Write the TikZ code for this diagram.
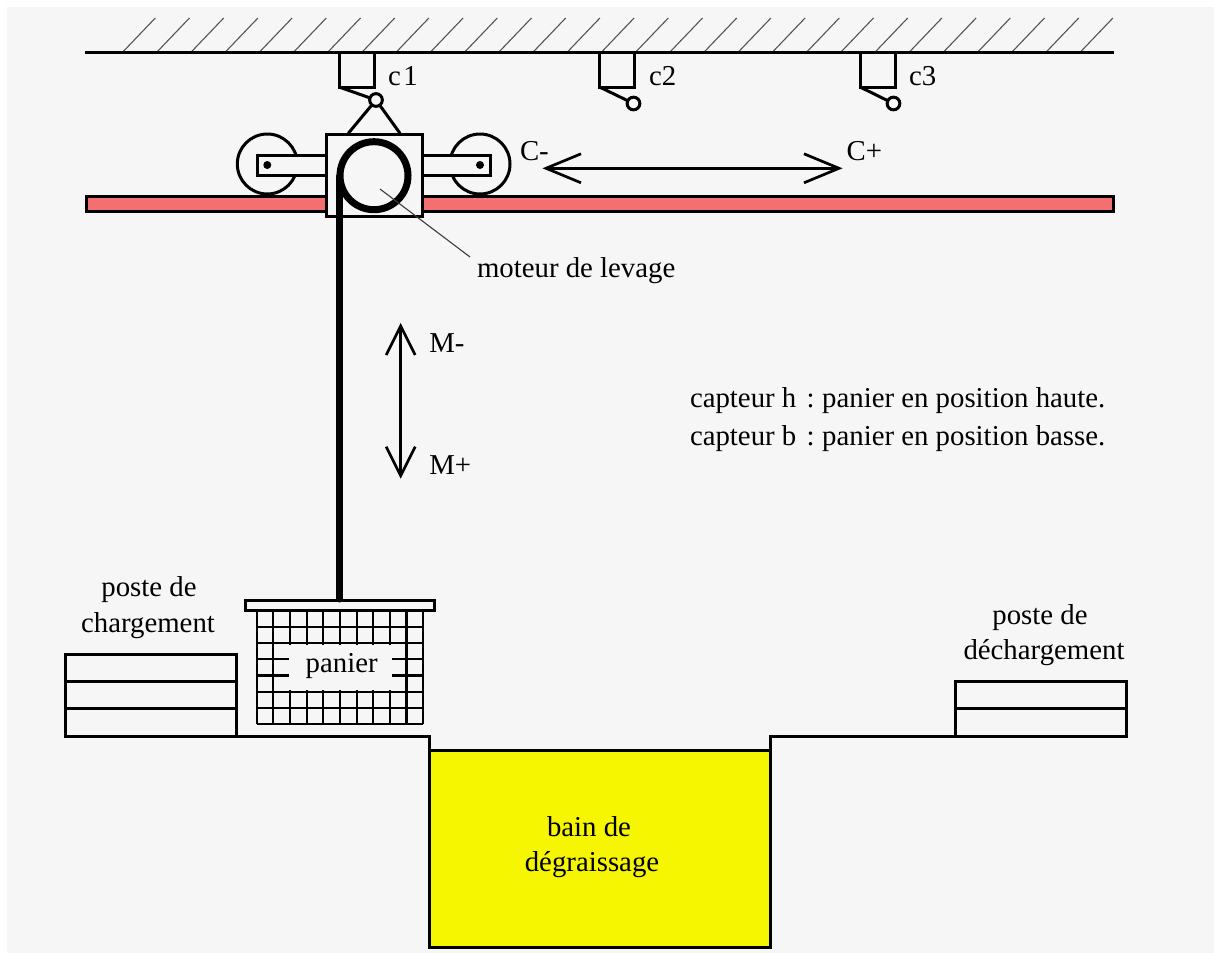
\documentclass[tikz,border=0pt]{standalone}
\usepackage{fontspec}
\setmainfont{Liberation Serif}
\usetikzlibrary{arrows.meta}
\definecolor{paper}{HTML}{F6F6F6}
\definecolor{railred}{HTML}{F47070}
\definecolor{bathyellow}{HTML}{F6F600}
\definecolor{hatchgrey}{HTML}{555555}
\pgfdeclarearrow{
  name=OpenVee,
  parameters={\the\pgfarrowlength,\the\pgfarrowwidth,\the\pgflinewidth},
  defaults={length=35pt,width=29pt},
  setup code={
    \pgfarrowssettipend{1pt}
    \pgfarrowssetlineend{-0.5pt}
    \pgfarrowssetvisualbackend{-\pgfarrowlength}
    \pgfarrowssetbackend{-\pgfarrowlength}
    \pgfarrowshullpoint{0pt}{0pt}
    \pgfarrowshullpoint{-\pgfarrowlength}{0.5\pgfarrowwidth}
    \pgfarrowshullpoint{-\pgfarrowlength}{-0.5\pgfarrowwidth}
  },
  drawing code={
    \pgfsetmiterjoin
    \pgfsetbuttcap
    \pgfpathmoveto{\pgfpoint{-\pgfarrowlength}{0.5\pgfarrowwidth}}
    \pgfpathlineto{\pgfpointorigin}
    \pgfpathlineto{\pgfpoint{-\pgfarrowlength}{-0.5\pgfarrowwidth}}
    \pgfusepathqstroke
  }
}
\tikzset{
  px/.style={x=1pt,y=-1pt},
  ink/.style={draw=black,line width=3pt},
  thin ink/.style={draw=black,line width=2.2pt},
  hatch/.style={draw=hatchgrey,line width=1.1pt},
  label/.style={inner sep=0pt,outer sep=0pt,anchor=base west,text=black,font=\fontsize{28.8}{34}\selectfont},
  clabel/.style={label,anchor=base},
  barbs long/.style={draw=black,line width=2.7pt,{OpenVee[length=35pt,width=29pt]}-{OpenVee[length=35pt,width=29pt]}},
  barbs short/.style={draw=black,line width=2.7pt,{OpenVee[length=29pt,width=29pt]}-{OpenVee[length=29pt,width=29pt]}},
  contact/.style={circle,draw=black,line width=3pt,fill=paper,minimum size=12.7pt,inner sep=0pt,outer sep=0pt},
  wheel/.style={circle,draw=black,line width=3pt,fill=paper,minimum size=60pt,inner sep=0pt,outer sep=0pt},
  axle/.style={circle,fill=black,minimum size=8pt,inner sep=0pt,outer sep=0pt},
}
\begin{document}
\begin{tikzpicture}[px]
\useasboundingbox (0,0) rectangle (1214,953);
\fill[white] (0,0) rectangle (1214,953);
\fill[paper] (7,7) rectangle (1214,953);

% ceiling
\foreach \i in {0,...,28} {
  \draw[hatch] ({122.3+34.2*\i},52.5) -- ++(33,-34.5);
}
\draw[ink] (85,52.5) -- (1114,52.5);

% sensors
\foreach \x/\cx/\cy/\n in {339/376/100/a,599.5/633.5/103.5/b,860/893.5/103.5/c} {
  \node[contact] (contact\n) at (\cx,\cy) {};
  \draw[ink,line cap=rect] (\x,52.5) -- (\x,87) -- (\x+35,87) -- (\x+35,52.5);
  \draw[ink] (\x,87) -- (contact\n);
}
\node[label] (c1) at (388,85) {\spaceskip=2.5pt c 1};
\node[label] (c2) at (649,85) {c2};
\node[label] (c3) at (909,85) {c3};

% rail
\draw[ink,fill=railred] (86,196.5) rectangle (1113,211);

% wheels and arms
\node[wheel] (wheelL) at (267.3,164) {};
\node[wheel] (wheelR) at (480,164) {};
\draw[ink,fill=paper] (257,155) rectangle (326,175.5);
\draw[ink,fill=paper] (490.5,155) rectangle (422,175.5);
\node[axle] (axleL) at (267.3,165) {};
\node[axle] (axleR) at (480,165) {};

% carriage
\draw[ink,fill=paper] (326,134) rectangle (422,216.7);
\coordinate (hangL) at (348.3,133.3);
\coordinate (hangR) at (400,133.3);
\draw[ink] (hangL) -- (contacta);
\draw[ink] (hangR) -- (contacta);

% hoist drum
\node[circle,draw=black,line width=7pt,minimum size=68pt,inner sep=0pt,outer sep=0pt] (drum) at (374,175.7) {};

% motor label
\node[label] (motor) at (477,277.7) {moteur de levage};
\coordinate (leadA) at (380,189);
\coordinate (leadB) at (470,257);
\draw[draw=hatchgrey!70!black,line width=1.1pt] (leadA) -- (leadB);

% travel arrows
\coordinate (cm) at (545,168.3);
\coordinate (cp) at (840,168.3);
\draw[barbs long] (cm) -- (cp);
\node[label] (cminus) at (520,160) {C-};
\node[label] (cplus) at (846.7,160) {C+};
\coordinate (mm) at (400.7,325);
\coordinate (mp) at (400.7,476.7);
\draw[barbs short] (mm) -- (mp);
\node[label] (mminus) at (429.3,352) {M-};
\node[label] (mplus) at (429.3,474.3) {M+};

% notes
\node[label] (h1) at (690,407) {capteur h\kern3pt{} :\kern-2pt{} panier en position haute.};
\node[label] (b1) at (690,445) {capteur b\kern3pt{} :\kern-2pt{} panier en position basse.};

% basket
\foreach \i in {0,...,10} {
  \draw[thin ink] ({256.7+16.66*\i},610.7) -- ({256.7+16.66*\i},724);
}
\foreach \j in {0,...,7} {
  \draw[thin ink] (256.7,{610.7+16.2*\j}) -- (423.3,{610.7+16.2*\j});
}
\draw[draw=black,line width=3.8pt] (406.5,610.7) -- (406.5,724);
\fill[paper] (289,644.8) rectangle (391.5,690);
\draw[ink,fill=paper] (245.7,600) rectangle (434.3,610.7);
\node[clabel] (panier) at (341.7,672) {panier};

% cable
\coordinate (cableTop) at (339.7,176);
\coordinate (cableEnd) at (339.7,599);
\draw[draw=black,line width=7pt,line cap=round] (cableTop) -- (cableEnd);

% stations
\draw[ink] (65.7,654) rectangle (236,736);
\draw[ink] (65.7,681) -- (236,681);
\draw[ink] (65.7,708.3) -- (236,708.3);
\draw[ink] (955,681.7) rectangle (1126.7,736);
\draw[ink] (955,708.7) -- (1126.7,708.7);
\node[clabel] (pc1) at (149,596.7) {poste de};
\node[clabel] (pc2) at (148,632) {chargement};
\node[clabel] (pd1) at (1040,624) {poste de};
\node[clabel] (pd2) at (1044,659.3) {déchargement};

% floor and bath
\draw[ink,fill=bathyellow] (429,750) rectangle (770.7,947.7);
\draw[ink,line cap=rect] (65.7,736) -- (429,736) -- (429,750);
\draw[ink,line cap=rect] (770.7,750) -- (770.7,736) -- (955,736);
\node[clabel] (bain1) at (589,836.7) {bain de};
\node[clabel] (bain2) at (592,871.7) {dégraissage};
\end{tikzpicture}
\end{document}
